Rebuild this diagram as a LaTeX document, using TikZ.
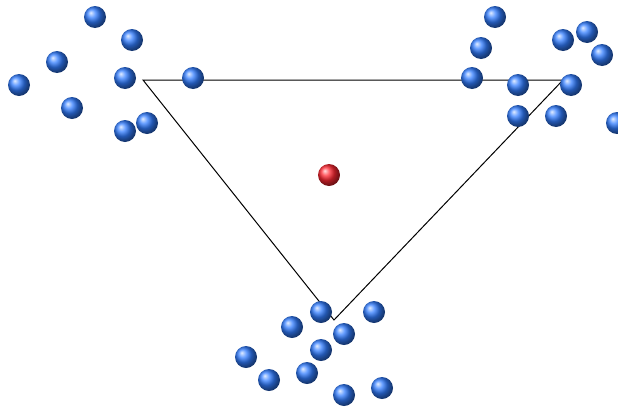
\documentclass[tikz,border=0pt]{standalone}
\usetikzlibrary{shadings}
\definecolor{ballblue}{RGB}{50,125,255}
\definecolor{ballred}{RGB}{255,40,50}
\tikzset{
  bball/.style={circle,inner sep=0pt,minimum size=22pt,ball color=ballblue},
  rball/.style={circle,inner sep=0pt,minimum size=22pt,ball color=ballred},
  edge/.style={draw=black,line width=1pt}
}
\begin{document}
\begin{tikzpicture}[x=1pt,y=-1pt]
\useasboundingbox (0,0) rectangle (618,407);
\coordinate (v1) at (143,80);
\coordinate (v2) at (563,80);
\coordinate (v3) at (334,320);
\draw[edge] (v1) -- (v2) -- (v3) -- cycle;
% left cluster
\node[bball] (l1) at (95,17) {};
\node[bball] (l2) at (132,40) {};
\node[bball] (l3) at (57,62) {};
\node[bball] (l4) at (19,85) {};
\node[bball] (l5) at (125,78) {};
\node[bball] (l6) at (72,108) {};
\node[bball] (l7) at (125,131) {};
\node[bball] (l8) at (147,123) {};
\node[bball] (l9) at (193,78) {};
% right cluster
\node[bball] (r1) at (495,17) {};
\node[bball] (r2) at (481,48) {};
\node[bball] (r3) at (563,40) {};
\node[bball] (r4) at (587,32) {};
\node[bball] (r5) at (602,55) {};
\node[bball] (r6) at (472,78) {};
\node[bball] (r7) at (518,85) {};
\node[bball] (r8) at (571,85) {};
\node[bball] (r9) at (518,116) {};
\node[bball] (r10) at (556,116) {};
\node[bball] (r11) at (617,123) {};
% bottom cluster
\node[bball] (b1) at (321,312) {};
\node[bball] (b2) at (374,312) {};
\node[bball] (b3) at (292,327) {};
\node[bball] (b4) at (344,334) {};
\node[bball] (b5) at (321,350) {};
\node[bball] (b6) at (246,357) {};
\node[bball] (b7) at (269,380) {};
\node[bball] (b8) at (307,373) {};
\node[bball] (b9) at (344,395) {};
\node[bball] (b10) at (382,388) {};
% centre
\node[rball] (c) at (329,175) {};
\end{tikzpicture}
\end{document}
